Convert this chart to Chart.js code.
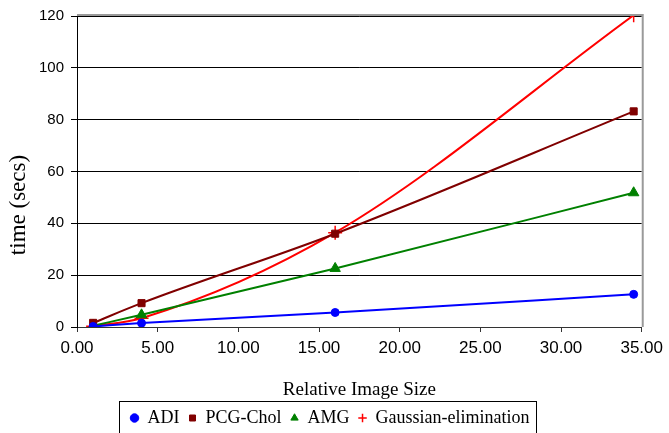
<!DOCTYPE html>
<html>
<head>
<meta charset="utf-8">
<script src="https://cdn.jsdelivr.net/npm/chart.js@4.4.0/dist/chart.umd.min.js"></script>
<style>
  html, body { margin: 0; padding: 0; background: #fff; }
  #wrap { width: 669px; height: 433px; }
</style>
</head>
<body>
<div id="wrap"><canvas id="timeChart"></canvas></div>
<script>
// values
const imageSizes = [1, 4, 16, 34.5];
const adiTimes = [0.2, 1.5, 5.6, 12.6];
const pcgCholTimes = [1.6, 9.2, 36, 83.2];
const amgTimes = [0.5, 4.7, 22.6, 51.8];
const gaussTimes = [0.3, 3.4, 36.4, 120.3];
const xTicks = [0, 5, 10, 15, 20, 25, 30, 35];
const yTicks = [0, 20, 40, 60, 80, 100, 120];

const serif = '"Liberation Serif", "Times New Roman", serif';
const sans = '"Liberation Sans", Arial, sans-serif';

const toPoints = ys => imageSizes.map((x, i) => ({ x: x, y: ys[i] }));

// box around the legend like the excel one
const legendBox = {
    id: 'legendBox',
    afterDraw(chart) {
        const lg = chart.legend;
        if (!lg || !lg.legendHitBoxes || !lg.legendHitBoxes.length) return;
        const boxes = lg.legendHitBoxes;
        const left = Math.min(...boxes.map(b => b.left)) - 12;
        const right = Math.max(...boxes.map(b => b.left + b.width)) + 6;
        const top = boxes[0].top - 8;
        const ctx = chart.ctx;
        ctx.save();
        ctx.strokeStyle = '#000';
        ctx.lineWidth = 1;
        ctx.strokeRect(Math.round(left) + 0.5, Math.round(top) + 0.5, Math.round(right - left), 60);
        ctx.restore();
    }
};

// grey frame on top and right of the plot area
const plotFrame = {
    id: 'plotFrame',
    beforeDatasetsDraw(chart) {
        const a = chart.chartArea;
        const ctx = chart.ctx;
        ctx.save();
        ctx.strokeStyle = '#9a9a9a';
        ctx.lineWidth = 2;
        ctx.beginPath();
        ctx.moveTo(a.left, a.top - 1);
        ctx.lineTo(a.right + 1, a.top - 1);
        ctx.lineTo(a.right + 1, a.bottom);
        ctx.stroke();
        ctx.restore();
    }
};

// y title sits lower than the axis centre in the original, so draw it by hand
const yTitle = {
    id: 'yTitle',
    afterDraw(chart) {
        const ctx = chart.ctx;
        const a = chart.chartArea;
        ctx.save();
        ctx.translate(19, a.bottom - 122);
        ctx.rotate(-Math.PI / 2);
        ctx.fillStyle = '#000';
        ctx.font = '23px ' + serif;
        ctx.textAlign = 'center';
        ctx.textBaseline = 'middle';
        ctx.fillText('time (secs)', 0, 0);
        ctx.restore();
    }
};

const ctx = document.getElementById('timeChart');

new Chart(ctx, {
    type: 'line',
    data: {
        datasets: [
            {
                label: 'ADI',
                data: toPoints(adiTimes),
                borderColor: '#0000ff',
                backgroundColor: '#0000ff',
                pointStyle: 'circle',
                pointRadius: 4
            },
            {
                label: 'PCG-Chol',
                data: toPoints(pcgCholTimes),
                borderColor: '#800000',
                backgroundColor: '#800000',
                pointStyle: 'rect',
                pointRadius: 5
            },
            {
                label: 'AMG',
                data: toPoints(amgTimes),
                borderColor: '#008000',
                backgroundColor: '#008000',
                pointStyle: 'triangle',
                pointRadius: 6
            },
            {
                label: 'Gaussian-elimination',
                data: toPoints(gaussTimes),
                borderColor: '#ff0000',
                backgroundColor: '#ff0000',
                pointStyle: 'cross',
                pointRadius: 7,
                pointBorderWidth: 1.5
            }
        ]
    },
    options: {
        responsive: true,
        maintainAspectRatio: false,
        animation: false,
        layout: {
            padding: { top: 13, left: 16, right: 25, bottom: -4 }
        },
        elements: {
            line: { borderWidth: 2, cubicInterpolationMode: 'monotone', fill: false },
            point: { borderWidth: 1 }
        },
        plugins: {
            legend: {
                position: 'bottom',
                labels: {
                    usePointStyle: true,
                    boxWidth: 8,
                    boxHeight: 6,
                    padding: 9,
                    color: '#000',
                    font: { family: serif, size: 18 }
                }
            },
            tooltip: { enabled: false }
        },
        scales: {
            x: {
                type: 'linear',
                min: 0,
                max: 35,
                afterBuildTicks: s => { s.ticks = xTicks.map(v => ({ value: v })); },
                afterFit: s => { s.height = 73; },
                ticks: {
                    color: '#000',
                    padding: 6,
                    maxRotation: 0,
                    font: { family: sans, size: 17 },
                    callback: v => Number(v).toFixed(2)
                },
                grid: {
                    drawOnChartArea: false,
                    drawTicks: true,
                    tickLength: 5,
                    tickColor: '#333',
                    color: '#333'
                },
                border: { color: '#333', width: 1 },
                title: {
                    display: true,
                    text: 'Relative Image Size',
                    color: '#000',
                    padding: { top: 0, bottom: -1 },
                    font: { family: serif, size: 19 }
                }
            },
            y: {
                min: 0,
                max: 120,
                afterBuildTicks: s => { s.ticks = yTicks.map(v => ({ value: v })); },
                afterFit: s => { s.width = 61; },
                ticks: {
                    color: '#000',
                    padding: 7,
                    font: { family: sans, size: 15 }
                },
                grid: {
                    color: '#000',
                    lineWidth: 1,
                    tickLength: 6,
                    tickColor: '#000'
                },
                border: { color: '#000', width: 1 }
            }
        }
    },
    plugins: [legendBox, plotFrame, yTitle]
});
</script>
</body>
</html>
